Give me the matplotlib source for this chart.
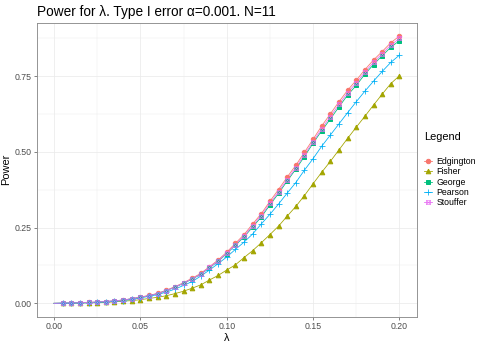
import matplotlib
matplotlib.use("Agg")
import matplotlib.pyplot as plt
from matplotlib.lines import Line2D
from matplotlib.path import Path

plt.rcParams["font.family"] = ["Liberation Sans", "DejaVu Sans"]

# lambda grid (line starts at 0, points from 0.005)
lam = [0.000, 0.005, 0.010, 0.015, 0.020, 0.025, 0.030, 0.035, 0.040, 0.045,
       0.050, 0.055, 0.060, 0.065, 0.070, 0.075, 0.080, 0.085, 0.090, 0.095,
       0.100, 0.105, 0.110, 0.115, 0.120, 0.125, 0.130, 0.135, 0.140, 0.145,
       0.150, 0.155, 0.160, 0.165, 0.170, 0.175, 0.180, 0.185, 0.190, 0.195,
       0.200]

edgington = [0, 0.0005, 0.001, 0.002, 0.003, 0.004, 0.006, 0.008, 0.011, 0.015,
             0.021, 0.026, 0.033, 0.043, 0.055, 0.068, 0.083, 0.099, 0.121, 0.143,
             0.169, 0.198, 0.227, 0.262, 0.296, 0.337, 0.376, 0.417, 0.456, 0.499,
             0.542, 0.586, 0.626, 0.666, 0.704, 0.737, 0.772, 0.804, 0.832, 0.861,
             0.883]
fisher = [0, 0.0, 0.0005, 0.001, 0.0015, 0.002, 0.003, 0.005, 0.007, 0.009,
          0.012, 0.016, 0.020, 0.025, 0.032, 0.040, 0.050, 0.061, 0.077, 0.092,
          0.110, 0.127, 0.151, 0.174, 0.200, 0.227, 0.255, 0.288, 0.320, 0.356,
          0.395, 0.433, 0.469, 0.507, 0.545, 0.582, 0.618, 0.655, 0.691, 0.726,
          0.752]
george = [0, 0.0005, 0.001, 0.002, 0.003, 0.004, 0.006, 0.008, 0.011, 0.015,
          0.020, 0.025, 0.032, 0.042, 0.053, 0.066, 0.080, 0.096, 0.117, 0.139,
          0.164, 0.192, 0.219, 0.252, 0.285, 0.325, 0.363, 0.404, 0.443, 0.485,
          0.529, 0.570, 0.609, 0.649, 0.688, 0.720, 0.757, 0.789, 0.818, 0.846,
          0.868]
pearson = [0, 0.0005, 0.001, 0.0015, 0.002, 0.003, 0.005, 0.007, 0.009, 0.013,
           0.018, 0.023, 0.029, 0.037, 0.047, 0.059, 0.072, 0.090, 0.110, 0.131,
           0.153, 0.178, 0.202, 0.229, 0.262, 0.294, 0.328, 0.364, 0.399, 0.440,
           0.478, 0.519, 0.556, 0.593, 0.630, 0.666, 0.701, 0.734, 0.766, 0.796,
           0.820]
stouffer = [0, 0.0005, 0.001, 0.002, 0.003, 0.004, 0.006, 0.008, 0.011, 0.015,
            0.020, 0.025, 0.032, 0.042, 0.054, 0.067, 0.081, 0.097, 0.119, 0.140,
            0.166, 0.194, 0.222, 0.256, 0.290, 0.330, 0.369, 0.409, 0.448, 0.491,
            0.534, 0.577, 0.617, 0.657, 0.696, 0.728, 0.764, 0.796, 0.825, 0.853,
            0.875]

names = ["Edgington", "Fisher", "George", "Pearson", "Stouffer"]
colors = ["#F8766D", "#A3A500", "#00BF7D", "#00B0F6", "#E76BF3"]

# ggplot shape 7: square with a cross inside
sqx = Path([(-1, -1), (1, -1), (1, 1), (-1, 1), (-1, -1), (-1, -1), (1, 1), (-1, 1), (1, -1)],
           [Path.MOVETO, Path.LINETO, Path.LINETO, Path.LINETO, Path.LINETO,
            Path.MOVETO, Path.LINETO, Path.MOVETO, Path.LINETO])
styles = [dict(marker="o", ms=4.4), dict(marker="^", ms=4.6), dict(marker="s", ms=3.9),
          dict(marker="+", ms=5.2, mew=0.8), dict(marker=sqx, ms=3.9, mfc="none", mew=0.6)]

fig = plt.figure(figsize=(488 / 72, 346 / 72), dpi=72)
ax = fig.add_axes([36.7 / 488, 1 - 316.7 / 346, 380 / 488, 294 / 346])

# lines first, then points, in factor order (as ggplot layers do)
series = [edgington, fisher, george, pearson, stouffer]
for ys, col in zip(series, colors):
    ax.plot(lam, ys, color=col, lw=0.8, zorder=2)
for ys, col, st in zip(series, colors, styles):
    ax.plot(lam[1:], ys[1:], ls="none", color=col, zorder=3, **st)

ax.set_xlim(-0.01, 0.21)
ax.set_ylim(-0.0442, 0.9272)
ax.set_xticks([0.00, 0.05, 0.10, 0.15, 0.20])
ax.set_xticklabels(["0.00", "0.05", "0.10", "0.15", "0.20"])
ax.set_yticks([0.00, 0.25, 0.50, 0.75])
ax.set_yticklabels(["0.00", "0.25", "0.50", "0.75"])
ax.set_xticks([0.025, 0.075, 0.125, 0.175], minor=True)
ax.set_yticks([0.125, 0.375, 0.625, 0.875], minor=True)
ax.grid(which="major", color="#EBEBEB", lw=0.8)
ax.grid(which="minor", color="#EBEBEB", lw=0.45)
ax.set_axisbelow(True)
ax.tick_params(which="major", length=2.75, width=0.6, color="#333333",
               labelsize=8.8, labelcolor="#4D4D4D", pad=2.2)
ax.tick_params(which="minor", length=0)
for s in ax.spines.values():
    s.set_color("#8c8c8c")
    s.set_linewidth(0.9)

ax.set_xlabel("λ", fontsize=11, labelpad=2)
ax.set_ylabel("Power", fontsize=11, labelpad=4)
fig.text(36.7 / 488, 1 - 12 / 346, "Power for λ. Type I error α=0.001. N=11",
         fontsize=13.6, ha="left", va="center")

handles = [Line2D([], [], color=c, lw=0.8, **st) for c, st in zip(colors, styles)]
leg = ax.legend(handles, names, title="Legend", loc="upper left",
                bbox_to_anchor=(424 / 488, 1 - 132 / 346), bbox_transform=fig.transFigure,
                frameon=False, fontsize=8.8, title_fontsize=11, handlelength=0.9,
                handletextpad=0.5, labelspacing=0.15, alignment="left",
                borderaxespad=0, borderpad=0)
leg._legend_box.sep = 15

fig.savefig("out.png", dpi=72)
